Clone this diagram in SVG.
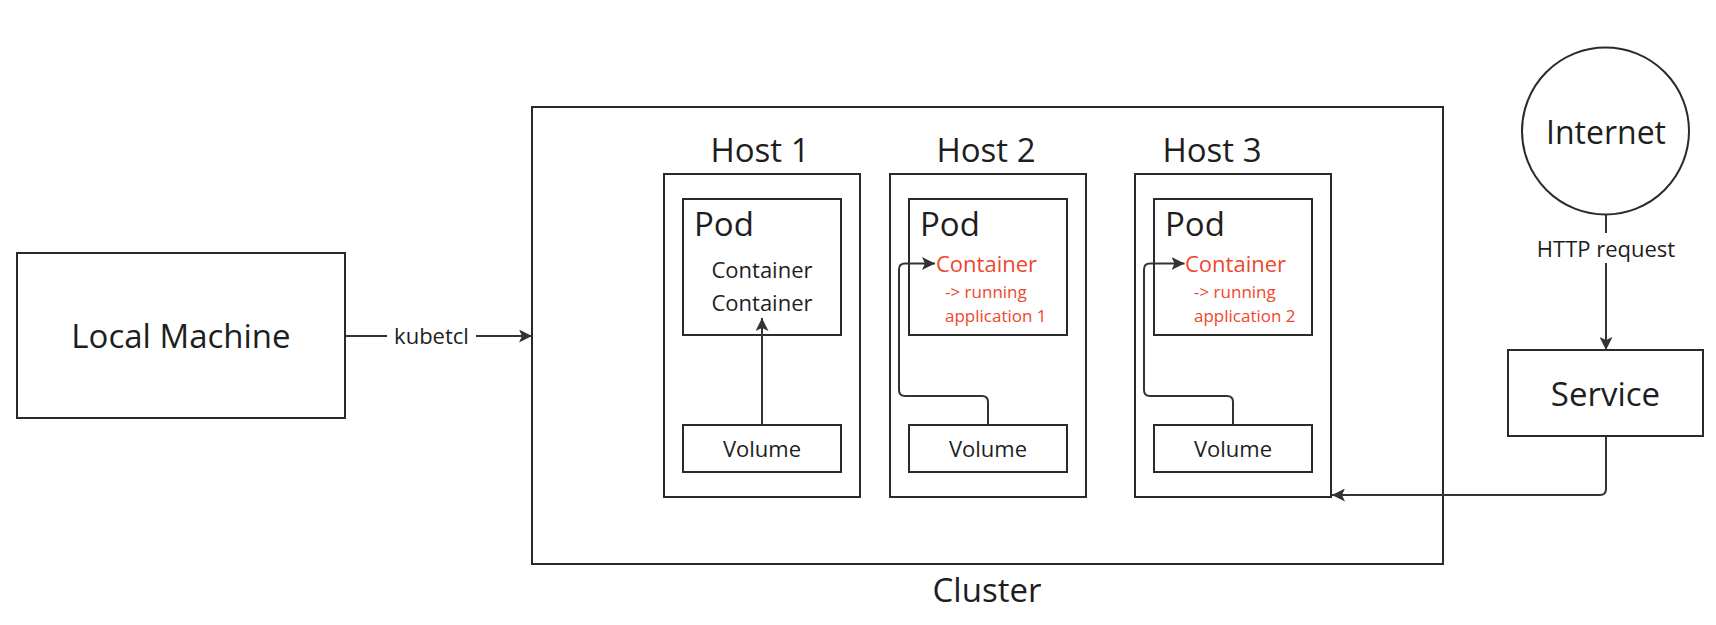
<svg xmlns="http://www.w3.org/2000/svg" width="1716" height="625" viewBox="0 0 1716 625">
<style>
.box{fill:#fff;stroke:#2a2a2a;stroke-width:2}
.ln{fill:none;stroke:#333;stroke-width:2}
text{font-family:"Open Sans","Noto Sans","Liberation Sans",sans-serif;fill:#1e1e1e}
.big{font-size:33px}
.inet{font-size:32px}
.xl{font-size:33px}
.md{font-size:22px}
.red{fill:#f0462d}
.sm{font-size:17px}
.c{text-anchor:middle}
</style>
<defs>
<marker id="arr" viewBox="0 0 13 13" refX="13" refY="6.5" markerWidth="13" markerHeight="13" markerUnits="userSpaceOnUse" orient="auto">
<path d="M0,0 L13,6.5 L0,13 L3,6.5 z" fill="#333"/>
</marker>
</defs>
<rect width="1716" height="625" fill="#fff"/>
<g id="local-machine">
<rect class="box" x="17" y="253" width="328" height="165"/>
<text class="xl c" x="181" y="348">Local Machine</text>
</g>
<g id="cluster">
<rect class="box" x="532" y="107" width="911" height="457"/>
<text class="xl c" x="987" y="602">Cluster</text>
</g>
<g id="host1">
<text class="big c" x="760" y="162">Host 1</text>
<rect class="box" x="664" y="174" width="196" height="323"/>
</g>
<g id="pod1">
<rect class="box" x="683" y="199" width="158" height="136"/>
<text class="big" x="694" y="236">Pod</text>
<text class="md c" x="762" y="278">Container</text>
<text class="md c" x="762" y="311">Container</text>
</g>
<g id="volume1">
<rect class="box" x="683" y="425" width="158" height="47"/>
<text class="md c" x="762" y="457">Volume</text>
</g>
<g id="host2">
<text class="big c" x="986" y="162">Host 2</text>
<rect class="box" x="890" y="174" width="196" height="323"/>
</g>
<g id="pod2">
<rect class="box" x="909" y="199" width="158" height="136"/>
<text class="big" x="920" y="236">Pod</text>
<text class="md red" x="936" y="272">Container</text>
<text class="sm red" x="945" y="298">-&gt; running</text>
<text class="sm red" x="945" y="322">application 1</text>
</g>
<g id="volume2">
<rect class="box" x="909" y="425" width="158" height="47"/>
<text class="md c" x="988" y="457">Volume</text>
</g>
<g id="host3">
<text class="big c" x="1212" y="162">Host 3</text>
<rect class="box" x="1135" y="174" width="196" height="323"/>
</g>
<g id="pod3">
<rect class="box" x="1154" y="199" width="158" height="136"/>
<text class="big" x="1165" y="236">Pod</text>
<text class="md red" x="1185" y="272">Container</text>
<text class="sm red" x="1194" y="298">-&gt; running</text>
<text class="sm red" x="1194" y="322">application 2</text>
</g>
<g id="volume3">
<rect class="box" x="1154" y="425" width="158" height="47"/>
<text class="md c" x="1233" y="457">Volume</text>
</g>
<g id="internet">
<circle class="box" cx="1605.5" cy="131" r="83.5"/>
<text class="inet c" x="1606" y="144">Internet</text>
</g>
<g id="service">
<rect class="box" x="1508" y="350" width="195" height="86"/>
<text class="big c" x="1605.5" y="406">Service</text>
</g>
<g id="connectors">
<path class="ln" d="M345 336 H387"/>
<path class="ln" d="M476 336 H532" marker-end="url(#arr)"/>
<text class="md c" x="431.5" y="344">kubetcl</text>
<path class="ln" d="M762 425 V318" marker-end="url(#arr)"/>
<path class="ln" d="M988 425 V402 Q988 396 982 396 H905 Q899 396 899 390 V269.5 Q899 263.5 905 263.5 H935" marker-end="url(#arr)"/>
<path class="ln" d="M1233 425 V402 Q1233 396 1227 396 H1150 Q1144 396 1144 390 V269.5 Q1144 263.5 1150 263.5 H1184.5" marker-end="url(#arr)"/>
<path class="ln" d="M1606 214.5 V233"/>
<path class="ln" d="M1606 263 V350" marker-end="url(#arr)"/>
<text class="md c" x="1606" y="257">HTTP request</text>
<path class="ln" d="M1606 437 V489 Q1606 495 1600 495 H1332" marker-end="url(#arr)"/>
</g>
</svg>
